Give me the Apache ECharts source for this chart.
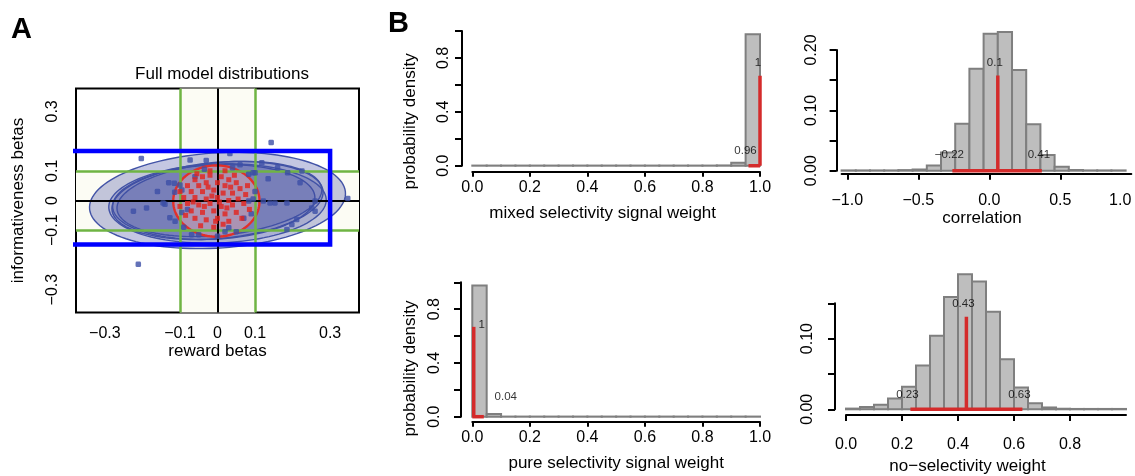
<!DOCTYPE html>
<html>
<head>
<meta charset="utf-8">
<script src="https://cdn.jsdelivr.net/npm/echarts@6.0.0/dist/echarts.min.js"></script>
<style>
  html, body { margin: 0; padding: 0; background: #fff; }
  #chart { width: 1135px; height: 476px; }
</style>
</head>
<body>
<div id="chart"></div>
<script>
// ---------- Panel A: reward vs informativeness betas ----------
const thresholds = [-0.1, 0.1];
const highlightX = [-0.417, 0.300];
const highlightY = [-0.148, 0.167];
// confidence ellipses: [centreX, centreY, semiAxisA, semiAxisB, angleDeg]
const blueEllipses = [
  [0.000, 0.000, 0.342, 0.160, 5],
  [0.000, 0.000, 0.283, 0.128, 7],
  [-0.010, -0.005, 0.270, 0.125, 4],
  [0.005, 0.005, 0.275, 0.122, 8],
  [0.000, -0.010, 0.290, 0.133, 3]
];
const redEllipse = [[-0.003, -0.002, 0.115, 0.120, 0]];
const bluePoints = [
  [0.143, 0.195], [-0.203, 0.141], [-0.211, -0.215], [0.347, 0.007],
  [-0.073, 0.136], [0.033, 0.158], [-0.130, 0.060], [-0.115, 0.058], [-0.100, 0.052],
  [-0.224, -0.036], [-0.189, -0.025], [-0.140, -0.013], [-0.127, -0.058], [-0.114, 0.028],
  [-0.095, 0.035], [-0.113, -0.070], [-0.069, -0.115], [-0.145, -0.008], [0.083, 0.088],
  [0.100, 0.093], [0.135, 0.073], [0.187, 0.093], [0.225, 0.099], [0.118, 0.127],
  [0.122, -0.002], [0.153, -0.008], [0.185, -0.008], [0.083, -0.002], [0.211, -0.064],
  [0.185, -0.098], [0.198, -0.081], [0.260, -0.036], [0.030, -0.092], [0.260, -0.002],
  [0.251, -0.025], [0.095, 0.093], [0.140, -0.008], [0.060, 0.120], [-0.030, 0.135],
  [-0.050, -0.115], [0.000, -0.120], [0.050, -0.105], [-0.090, -0.090], [-0.160, 0.030],
  [0.160, 0.110], [0.220, 0.060], [0.070, -0.060], [-0.060, 0.080], [-0.080, -0.030],
  [0.100, 0.030], [0.020, -0.105], [-0.095, -0.040], [0.090, -0.045], [-0.035, 0.105],
  [0.040, 0.110], [0.095, 0.005]
];
const redPoints = [
  [-0.060, 0.070], [-0.040, 0.080], [-0.020, 0.085], [0.010, 0.080], [0.030, 0.070],
  [0.050, 0.060], [-0.080, 0.050], [-0.050, 0.050], [-0.030, 0.060], [0.000, 0.060],
  [0.020, 0.050], [0.060, 0.040], [-0.070, 0.030], [-0.040, 0.030], [-0.010, 0.035],
  [0.015, 0.025], [0.040, 0.025], [0.075, 0.020], [-0.090, 0.010], [-0.060, 0.010],
  [-0.030, 0.005], [0.000, 0.010], [0.030, 0.000], [0.055, 0.005], [-0.080, -0.010],
  [-0.050, -0.015], [-0.020, -0.010], [0.010, -0.020], [0.040, -0.015], [0.070, -0.010],
  [-0.070, -0.035], [-0.040, -0.040], [-0.010, -0.035], [0.020, -0.045], [0.050, -0.040],
  [-0.060, -0.060], [-0.030, -0.065], [0.000, -0.060], [0.030, -0.070], [-0.045, -0.085],
  [-0.010, -0.090], [0.015, -0.080], [-0.100, 0.030], [0.080, 0.050], [-0.020, 0.100],
  [0.020, 0.100], [-0.085, -0.050], [0.065, -0.060], [-0.025, 0.045], [0.045, 0.085],
  [-0.055, 0.090], [0.085, -0.030], [-0.100, -0.020], [0.005, -0.005], [-0.015, 0.015],
  [-0.035, -0.020], [0.025, -0.025], [-0.065, -0.005], [0.035, 0.045], [-0.005, -0.070]
];
const scatterTicks = [-0.3, -0.2, -0.1, 0, 0.1, 0.2, 0.3];
const scatterLabels = [-0.3, -0.1, 0, 0.1, 0.3];

// ---------- Panel B: posterior histograms ----------
const unitBreaks = [0, 0.05, 0.1, 0.15, 0.2, 0.25, 0.3, 0.35, 0.4, 0.45, 0.5,
                    0.55, 0.6, 0.65, 0.7, 0.75, 0.8, 0.85, 0.9, 0.95, 1.0];
const corrBreaks = [-1.0, -0.9, -0.8, -0.7, -0.6, -0.5, -0.4, -0.3, -0.2, -0.1, 0,
                    0.1, 0.2, 0.3, 0.4, 0.5, 0.6, 0.7, 0.8, 0.9, 1.0];
const mixedDensity = [0.001, 0.001, 0.001, 0.001, 0.001, 0.001, 0.001, 0.001, 0.001, 0.001,
                      0.001, 0.001, 0.001, 0.001, 0.001, 0.001, 0.001, 0.002, 0.022, 0.975];
const pureDensity  = [0.976, 0.020, 0.001, 0.001, 0.001, 0.001, 0.001, 0.001, 0.001, 0.001,
                      0.001, 0.001, 0.001, 0.001, 0.001, 0.001, 0.001, 0.001, 0.001, 0.001];
const corrDensity  = [0.0005, 0.0005, 0.0005, 0.0005, 0.001, 0.002, 0.0085, 0.030, 0.078, 0.169,
                      0.227, 0.230, 0.167, 0.077, 0.026, 0.0066, 0.0012, 0.0005, 0.0005, 0.0005];
const noselDensity = [0.001, 0.0034, 0.0064, 0.0154, 0.032, 0.062, 0.104, 0.159, 0.191, 0.181,
                      0.138, 0.071, 0.031, 0.0086, 0.0026, 0.0008, 0.0005, 0.0005, 0.0005, 0.0005];
// [lower bound, median, upper bound]
const mixedStats = [0.96, 1.0, 1.0];
const pureStats  = [0.0, 0.005, 0.04];
const corrStats  = [-0.22, 0.1, 0.41];
const noselStats = [0.23, 0.43, 0.63];
// printed annotations: [which statistic, text]
const mixedNotes = [['lo', '0.96'], ['med', '1']];
const pureNotes  = [['med', '1'], ['hi', '0.04']];
const corrNotes  = [['lo', '\u22120.22'], ['med', '0.1'], ['hi', '0.41']];
const noselNotes = [['lo', '0.23'], ['med', '0.43'], ['hi', '0.63']];

const unitTicks = [0, 0.2, 0.4, 0.6, 0.8, 1.0];
const corrTicks = [-1.0, -0.5, 0, 0.5];
const corrTickLabels = [-1.0, -0.5, 0, 0.5, 1.0];
const noselTicks = [0, 0.2, 0.4, 0.6, 0.8];
const weightYTicks = [0, 0.2, 0.4, 0.6, 0.8, 1.0];
const weightYLabels = [0, 0.4, 0.8];
const corrYTicks = [0, 0.05, 0.10, 0.15, 0.20];
const corrYLabels = [0, 0.10, 0.20];
const noselYTicks = [0, 0.05, 0.10, 0.15];
const noselYLabels = [0, 0.10];

// ---------- styling ----------
const FONT = '"Liberation Sans", Arial, Helvetica, sans-serif';
const RED = '#d42b2b';
const fmt = d => v => v.toFixed(d).replace('-', '\u2212');
const fmtA = v => (Math.abs(v) < 1e-9 ? '0' : v.toFixed(1).replace('-', '\u2212'));

// outline of a rotated ellipse, projected through the cartesian axes
function ellipseItem(fillFor, stroke, width) {
  return function (params, api) {
    const cx = api.value(0), cy = api.value(1), a = api.value(2), b = api.value(3);
    const th = api.value(4) * Math.PI / 180;
    const pts = [];
    for (let k = 0; k < 120; k++) {
      const t = (k / 120) * Math.PI * 2;
      const ex = a * Math.cos(t), ey = b * Math.sin(t);
      pts.push(api.coord([cx + ex * Math.cos(th) - ey * Math.sin(th),
                          cy + ex * Math.sin(th) + ey * Math.cos(th)]));
    }
    return { type: 'polygon', shape: { points: pts },
             style: { fill: fillFor(params.dataIndex), stroke: stroke, lineWidth: width } };
  };
}

function histItem(params, api) {
  const p0 = api.coord([api.value(0), 0]);
  const p1 = api.coord([api.value(1), api.value(2)]);
  return { type: 'rect',
           shape: { x: p0[0], y: p1[1], width: p1[0] - p0[0], height: p0[1] - p1[1] },
           style: { fill: '#bebebe', stroke: '#7f7f7f', lineWidth: 2 } };
}

function axisStyle(extra) {
  return Object.assign({
    type: 'value',
    splitLine: { show: false },
    axisLine: { show: true, onZero: false, lineStyle: { color: '#000', width: 2 } },
    axisTick: { show: true, inside: false, length: 6, lineStyle: { color: '#000', width: 2 } },
    nameLocation: 'middle',
    nameTextStyle: { fontSize: 17, color: '#000', fontFamily: FONT }
  }, extra);
}

// one histogram panel: bars, red summary lines and the printed values
function histPanel(cfg) {
  const bars = cfg.density.map((d, i) => [cfg.breaks[i], cfg.breaks[i + 1], d]);
  const peak = Math.max.apply(null, cfg.density);
  const stat = { lo: cfg.stats[0], med: cfg.stats[1], hi: cfg.stats[2] };
  const notes = cfg.notes.map(n => ({
    value: [stat[n[0]], peak * (n[0] === 'med' ? cfg.medFrac : cfg.ciFrac), n[1]],
    label: { offset: cfg.offsets[n[0]] }
  }));
  const ax = { xAxisIndex: cfg.x, yAxisIndex: cfg.y };
  return [
    Object.assign({ type: 'custom', renderItem: histItem, data: bars, clip: false,
                    encode: { x: [0, 1], y: 2 }, z: 2, silent: true }, ax),
    Object.assign({ type: 'line', data: [[stat.lo, 0], [stat.hi, 0]], symbol: 'none', clip: false,
                    lineStyle: { color: RED, width: 3.5, cap: 'butt' }, z: 3, silent: true }, ax),
    Object.assign({ type: 'line', data: [[stat.med, 0], [stat.med, peak * 0.685]], symbol: 'none', clip: false,
                    lineStyle: { color: RED, width: 3.5, cap: 'butt' }, z: 3, silent: true }, ax),
    Object.assign({ type: 'scatter', data: notes, symbolSize: 1, clip: false,
                    itemStyle: { color: 'rgba(0,0,0,0)' }, z: 4, silent: true,
                    label: { show: true, position: 'inside', formatter: p => p.value[2],
                             fontSize: 11.5, color: '#000', fontFamily: FONT } }, ax)
  ];
}

const chart = echarts.init(document.getElementById('chart'), null, { renderer: 'canvas' });

const tickStyle = len => ({ length: len, lineStyle: { color: '#000', width: 2 } });

const option = {
  animation: false,
  backgroundColor: '#fff',
  textStyle: { fontFamily: FONT },
  title: {
    text: 'Full model distributions', left: 217, top: 61, textAlign: 'center',
    textStyle: { fontSize: 17, fontWeight: 'normal', color: '#000', fontFamily: FONT }
  },
  graphic: [
    { type: 'text', x: 11, y: 15, style: { text: 'A', font: 'bold 29px ' + FONT, fill: '#000' } },
    { type: 'text', x: 388, y: 9, style: { text: 'B', font: 'bold 29px ' + FONT, fill: '#000' } }
  ],
  grid: [
    { left: 76, top: 88.5, width: 283, height: 224, show: true, borderColor: '#000', borderWidth: 2,
      backgroundColor: 'transparent' },
    { left: 472.3, top: 31, width: 287.7, height: 134.7 },
    { left: 841.6, top: 50, width: 289.7, height: 120.7 },
    { left: 472.3, top: 282.3, width: 287.7, height: 134.4 },
    { left: 846, top: 303.3, width: 280, height: 116 }
  ],
  xAxis: [
    axisStyle({ gridIndex: 0, min: -0.377, max: 0.377, axisLine: { show: false },
      axisTick: Object.assign(tickStyle(7), { customValues: scatterTicks }),
      axisLabel: { customValues: scatterLabels, formatter: fmtA, fontSize: 16, color: '#000', margin: 13 },
      name: 'reward betas', nameGap: 29 }),
    axisStyle({ gridIndex: 1, min: 0, max: 1, offset: 6,
      axisTick: Object.assign(tickStyle(5), { customValues: unitTicks }),
      axisLabel: { customValues: unitTicks, formatter: fmt(1), fontSize: 16, color: '#000', margin: 8 },
      name: 'mixed selectivity signal weight', nameGap: 33,
      nameTextStyle: { fontSize: 17, color: '#000', fontFamily: FONT, padding: [0, 27, 0, 0] } }),
    axisStyle({ gridIndex: 2, min: -1.04, max: 1.0, offset: 3,
      axisTick: Object.assign(tickStyle(6), { customValues: corrTicks }),
      axisLabel: { customValues: corrTickLabels, formatter: fmt(1), fontSize: 16, color: '#000', margin: 19,
                   alignMaxLabel: 'right' },
      name: 'correlation', nameGap: 32,
      nameTextStyle: { fontSize: 17, color: '#000', fontFamily: FONT, padding: [0, 9, 0, 0] } }),
    { type: 'value', gridIndex: 2, min: -1.0, max: 1.04, show: false },
    axisStyle({ gridIndex: 3, min: 0, max: 1, offset: 5,
      axisTick: Object.assign(tickStyle(5), { customValues: unitTicks }),
      axisLabel: { customValues: unitTicks, formatter: fmt(1), fontSize: 16, color: '#000', margin: 8 },
      name: 'pure selectivity signal weight', nameGap: 33 }),
    axisStyle({ gridIndex: 4, min: 0, max: 1, offset: 5.7,
      axisTick: Object.assign(tickStyle(6), { customValues: noselTicks }),
      axisLabel: { customValues: noselTicks, formatter: fmt(1), fontSize: 16, color: '#000', margin: 22 },
      name: 'no\u2212selectivity weight', nameGap: 43,
      nameTextStyle: { fontSize: 17, color: '#000', fontFamily: FONT, padding: [0, 37, 0, 0] } })
  ],
  yAxis: [
    axisStyle({ gridIndex: 0, min: -0.377, max: 0.377, axisLine: { show: false },
      axisTick: Object.assign(tickStyle(7), { customValues: scatterTicks }),
      axisLabel: { customValues: scatterLabels, formatter: fmtA, fontSize: 16, color: '#000', margin: 15, rotate: 90 },
      name: 'informativeness betas', nameGap: 49 }),
    axisStyle({ gridIndex: 1, min: 0, max: 1, offset: 10.3,
      axisTick: Object.assign(tickStyle(7), { customValues: weightYTicks }),
      axisLabel: { customValues: weightYLabels, formatter: fmt(1), fontSize: 16, color: '#000', margin: 10, rotate: 90 },
      name: 'probability density', nameGap: 43,
      nameTextStyle: { fontSize: 17, color: '#000', fontFamily: FONT, padding: [0, 46, 0, 0] } }),
    axisStyle({ gridIndex: 2, min: 0, max: 0.2, offset: 5,
      axisTick: Object.assign(tickStyle(7), { customValues: corrYTicks }),
      axisLabel: { customValues: corrYLabels, formatter: fmt(2), fontSize: 16, color: '#000', margin: 17, rotate: 90 } }),
    axisStyle({ gridIndex: 3, min: 0, max: 1, offset: 11.3,
      axisTick: Object.assign(tickStyle(7), { customValues: weightYTicks }),
      axisLabel: { customValues: weightYLabels, formatter: fmt(1), fontSize: 16, color: '#000', margin: 18, rotate: 90 },
      name: 'probability density', nameGap: 42,
      nameTextStyle: { fontSize: 17, color: '#000', fontFamily: FONT, padding: [0, 38, 0, 0] } }),
    axisStyle({ gridIndex: 4, min: 0, max: 0.15, offset: 11,
      axisTick: Object.assign(tickStyle(7), { customValues: noselYTicks }),
      axisLabel: { customValues: noselYLabels, formatter: fmt(2), fontSize: 16, color: '#000', margin: 19, rotate: 90 } })
  ],
  series: [
    // threshold bands and reference lines
    { type: 'line', xAxisIndex: 0, yAxisIndex: 0, data: [], silent: true, z: 1,
      markArea: { silent: true, itemStyle: { color: '#fcfcf4' },
        data: [[{ xAxis: thresholds[0] }, { xAxis: thresholds[1] }],
               [{ yAxis: thresholds[0] }, { yAxis: thresholds[1] }]] },
      markLine: { silent: true, symbol: 'none', label: { show: false }, animation: false,
        data: [
          { xAxis: thresholds[0], lineStyle: { color: '#6fb443', width: 2.5, type: 'solid' } },
          { xAxis: thresholds[1], lineStyle: { color: '#6fb443', width: 2.5, type: 'solid' } },
          { yAxis: thresholds[0], lineStyle: { color: '#6fb443', width: 2.5, type: 'solid' } },
          { yAxis: thresholds[1], lineStyle: { color: '#6fb443', width: 2.5, type: 'solid' } },
          { xAxis: 0, lineStyle: { color: '#000', width: 2, type: 'solid' } },
          { yAxis: 0, lineStyle: { color: '#000', width: 2, type: 'solid' } }
        ] } },
    { type: 'custom', xAxisIndex: 0, yAxisIndex: 0, data: blueEllipses, z: 3, silent: true,
      renderItem: ellipseItem(i => (i === 0 ? 'rgba(60,70,160,0.30)' : 'rgba(60,70,160,0.18)'), '#4253a6', 1.4) },
    { type: 'custom', xAxisIndex: 0, yAxisIndex: 0, data: redEllipse, z: 4, silent: true,
      renderItem: ellipseItem(() => 'rgba(232,172,172,0.45)', '#e2302a', 2.4) },
    { type: 'scatter', xAxisIndex: 0, yAxisIndex: 0, data: bluePoints, z: 5, silent: true,
      symbol: 'roundRect', symbolSize: 5.5, itemStyle: { color: '#3c4fa6' } },
    { type: 'scatter', xAxisIndex: 0, yAxisIndex: 0, data: redPoints, z: 6, silent: true,
      symbol: 'rect', symbolSize: 5, itemStyle: { color: '#e3231c' } },
    { type: 'line', xAxisIndex: 0, yAxisIndex: 0, z: 8, silent: true, clip: false, symbol: 'none',
      data: [[highlightX[0], highlightY[1]], [highlightX[1], highlightY[1]], [highlightX[1], highlightY[0]],
             [highlightX[0], highlightY[0]], [highlightX[0], highlightY[1]]],
      lineStyle: { color: '#0000ff', width: 4.5, join: 'miter' } }
  ]
    .concat(histPanel({ x: 1, y: 1, breaks: unitBreaks, density: mixedDensity, stats: mixedStats, notes: mixedNotes,
                        medFrac: 0.785, ciFrac: 0.113, offsets: { lo: [-3, 0], med: [-2, 0], hi: [-3, 0] } }))
    .concat(histPanel({ x: 3, y: 2, breaks: corrBreaks, density: corrDensity, stats: corrStats, notes: corrNotes,
                        medFrac: 0.78, ciFrac: 0.113, offsets: { lo: [-3, 0], med: [-3, 0], hi: [-3, 0] } }))
    .concat(histPanel({ x: 4, y: 3, breaks: unitBreaks, density: pureDensity, stats: pureStats, notes: pureNotes,
                        medFrac: 0.70, ciFrac: 0.149, offsets: { lo: [0, 0], med: [8, 0], hi: [22, 0] } }))
    .concat(histPanel({ x: 5, y: 4, breaks: unitBreaks, density: noselDensity, stats: noselStats, notes: noselNotes,
                        medFrac: 0.785, ciFrac: 0.107, offsets: { lo: [-3, 0], med: [-3, 0], hi: [-3, 0] } }))
};

chart.setOption(option);
</script>
</body>
</html>
